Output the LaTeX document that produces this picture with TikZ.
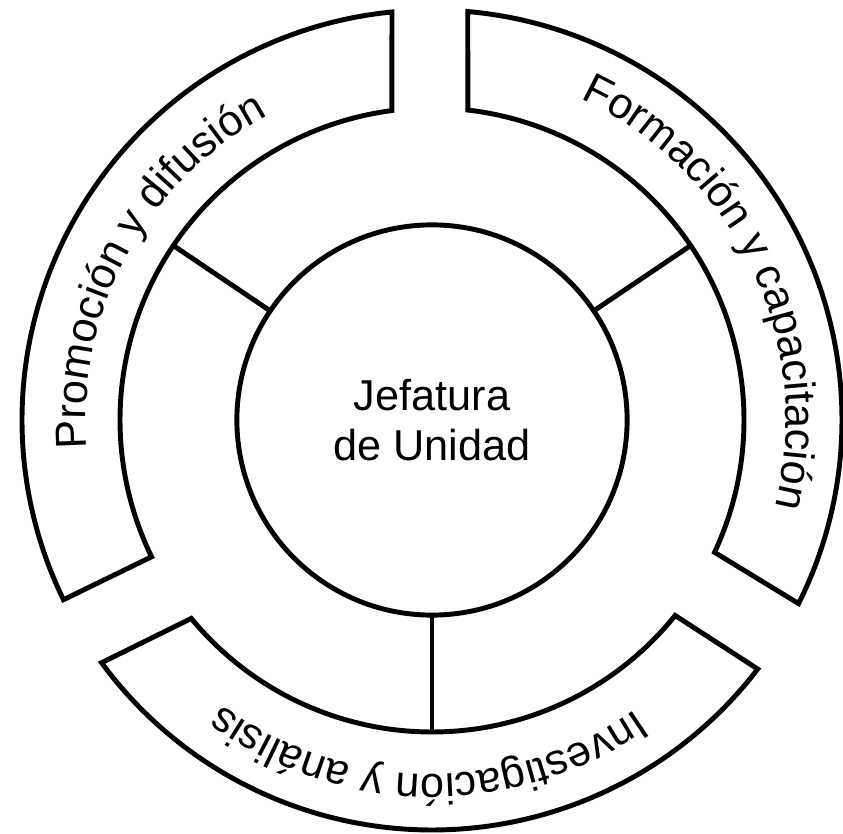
\documentclass[tikz,border=0pt]{standalone}
\usepackage{fontspec}
\setmainfont{Liberation Sans}
\usepackage{tikz}
\usetikzlibrary{decorations.text}
\tikzset{
  hub/.style={
    circle, draw=black, line width=1.4pt,
    minimum size=3.9cm, inner sep=0pt, outer sep=0pt,
    align=center, font=\fontsize{12.3}{14.4}\selectfont
  },
  sector/.style={draw=black, line width=1.4pt, line join=miter},
  spoke/.style={draw=black, line width=1.4pt},
  ringtext/.style={
    decorate,
    decoration={text along path, text align=center,
      text={|\fontsize{12.3}{14.4}\selectfont|#1}}
  }
}

\begin{document}
\begin{tikzpicture}[x=0.01cm, y=0.01cm]
  \useasboundingbox (-432,-414) rectangle (411,420);
  \node[hub] (jefatura) at (0,0) {Jefatura\\de Unidad};

  \draw[sector] (206:410) arc[start angle=206, end angle=95.6, radius=410]
    -- (97.4:312) arc[start angle=97.4, end angle=206, radius=312] -- cycle;
  \draw[sector] (85:410) arc[start angle=85, end angle=-26.6, radius=410]
    -- (-25.1:312) arc[start angle=-25.1, end angle=83.4, radius=312] -- cycle;
  \draw[sector] (-37.4:410) arc[start angle=-37.4, end angle=-143.7, radius=410]
    -- (-140.5:312) arc[start angle=-140.5, end angle=-38.8, radius=312] -- cycle;

  \coordinate (promocion) at (146:312);
  \coordinate (formacion) at (34:312);
  \coordinate (investigacion) at (270:312);

  \draw[spoke] (jefatura.146) -- (promocion);
  \draw[spoke] (jefatura.34) -- (formacion);
  \draw[spoke] (jefatura.270) -- (investigacion);

  \path[ringtext={Promoción y difusión}]
    (211.5:346) arc[start angle=211.5, end angle=91.5, radius=346];
  \path[ringtext={Formación y capacitación}]
    (85.5:354) arc[start angle=85.5, end angle=-34.5, radius=354];
  \path[ringtext={Investigación y análisis}]
    (-30.7:354) arc[start angle=-30.7, end angle=-150.7, radius=354];
\end{tikzpicture}
\end{document}
